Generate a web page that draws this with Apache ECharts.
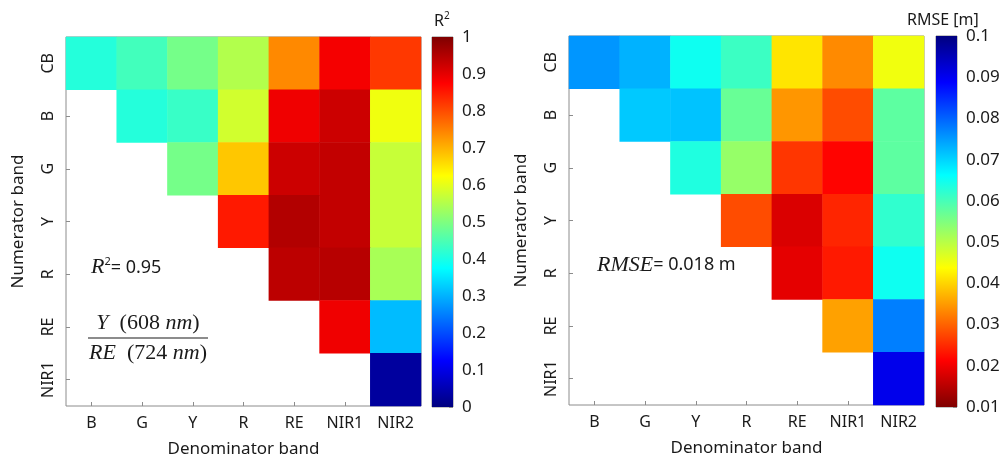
<!DOCTYPE html>
<html>
<head>
<meta charset="utf-8">
<script src="https://cdn.jsdelivr.net/npm/echarts@6/dist/echarts.min.js"></script>
<style>
  html, body { margin: 0; padding: 0; background: #fff; }
  #chart { width: 1008px; height: 455px; }
</style>
</head>
<body>
<div id="chart"></div>
<script>
// Band ratio performance: numerator band (rows) over denominator band (columns)
const numeratorBands = ['CB', 'B', 'G', 'Y', 'R', 'RE', 'NIR1'];
const denominatorBands = ['B', 'G', 'Y', 'R', 'RE', 'NIR1', 'NIR2'];

// Coefficient of determination per band pair (null = pair not evaluated)
const r2Values = [
  [0.41, 0.44, 0.49, 0.55, 0.74, 0.885, 0.82],
  [null, 0.41, 0.43, 0.58, 0.89, 0.925, 0.61],
  [null, null, 0.49, 0.68, 0.925, 0.935, 0.57],
  [null, null, null, 0.85, 0.95, 0.935, 0.57],
  [null, null, null, null, 0.94, 0.945, 0.54],
  [null, null, null, null, null, 0.89, 0.31],
  [null, null, null, null, null, null, 0.03]
];

// Root mean square error [m] per band pair
const rmseValues = [
  [0.0755, 0.073, 0.065, 0.061, 0.0415, 0.0335, 0.045],
  [null, 0.071, 0.0715, 0.057, 0.0345, 0.028, 0.058],
  [null, null, 0.0635, 0.053, 0.026, 0.0215, 0.058],
  [null, null, null, 0.028, 0.018, 0.0245, 0.062],
  [null, null, null, null, 0.019, 0.0235, 0.065],
  [null, null, null, null, null, 0.0355, 0.0775],
  [null, null, null, null, null, null, 0.0905]
];

// Colour scale ranges and tick spacing
const r2Range = [0, 1];
const r2Step = 0.1;
const rmseRange = [0.01, 0.1];
const rmseStep = 0.01;

// Jet colour map, low to high
const jet = ['#00007f', '#0000ff', '#007fff', '#00ffff', '#7fff7f', '#ffff00', '#ff7f00', '#ff0000', '#7f0000'];
const jetReversed = jet.slice().reverse();

function toCells(matrix) {
  const cells = [];
  matrix.forEach((row, r) => row.forEach((v, c) => {
    if (v !== null) cells.push([c, r, v]);
  }));
  return cells;
}

function gradientTopDown(colors) {
  const n = colors.length - 1;
  return new echarts.graphic.LinearGradient(0, 0, 0, 1,
    colors.map((c, i) => ({ offset: i / n, color: c })));
}

const FONT = 'Noto Sans';
const GREY = '#8c8c8c';
const TXT = '#1a1a1a';

function heatGrid(left, top) {
  return { left: left, top: top, width: 355, height: 369, show: true,
           containLabel: false, outerBoundsMode: 'none',
           borderColor: GREY, borderWidth: 1, backgroundColor: '#fff' };
}

function catXAxis(gridIndex, withLabels) {
  return {
    type: 'category', gridIndex: gridIndex, data: denominatorBands,
    position: withLabels ? 'bottom' : 'top',
    name: withLabels ? 'Denominator band' : '',
    nameLocation: 'middle', nameGap: 35,
    nameTextStyle: { fontFamily: FONT, fontSize: 17, color: TXT },
    axisLine: { show: false },
    axisTick: { show: true, inside: true, alignWithLabel: true, length: 4, lineStyle: { color: GREY } },
    axisLabel: { show: withLabels, fontFamily: FONT, fontSize: 16, color: TXT, margin: 9 },
    splitLine: { show: false }
  };
}

function catYAxis(gridIndex, withLabels) {
  return {
    type: 'category', gridIndex: gridIndex, data: numeratorBands, inverse: true,
    position: withLabels ? 'left' : 'right',
    name: withLabels ? 'Numerator band' : '',
    nameLocation: 'middle', nameGap: 39, nameRotate: 90,
    nameTextStyle: { fontFamily: FONT, fontSize: 17, color: TXT },
    axisLine: { show: false },
    axisTick: { show: true, inside: true, alignWithLabel: true, length: 4, lineStyle: { color: GREY } },
    axisLabel: { show: withLabels, rotate: 90, fontFamily: FONT, fontSize: 16, color: TXT, margin: 10 },
    splitLine: { show: false }
  };
}

function barXAxis(gridIndex) {
  return { type: 'category', gridIndex: gridIndex, data: ['scale'], show: false };
}

function barYAxis(gridIndex, range, step, digits) {
  return {
    type: 'value', gridIndex: gridIndex, position: 'right',
    min: range[0], max: range[1], interval: step,
    axisLine: { show: false },
    axisTick: { show: true, inside: true, length: 4, lineStyle: { color: GREY } },
    axisLabel: { fontFamily: FONT, fontSize: 17, color: TXT, margin: 9,
                 formatter: v => String(+v.toFixed(digits)) },
    splitLine: { show: false }
  };
}

function colorBarSeries(axisIndex, range, colors) {
  return {
    type: 'custom', xAxisIndex: axisIndex, yAxisIndex: axisIndex,
    data: [[0, range[0], range[1]]],
    silent: true, z: 1,
    renderItem: function (params, api) {
      const top = api.coord([api.value(0), api.value(2)]);
      const bottom = api.coord([api.value(0), api.value(1)]);
      const w = api.size([1, 0])[0];
      return {
        type: 'rect',
        shape: { x: top[0] - w / 2, y: top[1], width: w, height: bottom[1] - top[1] },
        style: { fill: gradientTopDown(colors) }
      };
    }
  };
}

const chart = echarts.init(document.getElementById('chart'), null, { renderer: 'canvas' });

const serifItalic = { fontFamily: 'Liberation Serif', fontStyle: 'italic', fontSize: 22, fill: TXT };
const serifUpright = { fontFamily: 'Liberation Serif', fontSize: 22, fill: TXT };

chart.setOption({
  animation: false,
  backgroundColor: '#fff',
  grid: [
    heatGrid(66, 37),
    heatGrid(569, 36),
    { left: 432, top: 37, width: 21, height: 370, show: true, containLabel: false, outerBoundsMode: 'none',
      borderColor: GREY, borderWidth: 1 },
    { left: 936, top: 36, width: 21, height: 371, show: true, containLabel: false, outerBoundsMode: 'none',
      borderColor: GREY, borderWidth: 1 }
  ],
  xAxis: [
    catXAxis(0, true), catXAxis(1, true),
    barXAxis(2), barXAxis(3),
    catXAxis(0, false), catXAxis(1, false)
  ],
  yAxis: [
    catYAxis(0, true), catYAxis(1, true),
    barYAxis(2, r2Range, r2Step, 1), barYAxis(3, rmseRange, rmseStep, 2),
    catYAxis(0, false), catYAxis(1, false)
  ],
  visualMap: [
    { type: 'continuous', show: false, seriesIndex: 0, dimension: 2,
      min: r2Range[0], max: r2Range[1], inRange: { color: jet } },
    { type: 'continuous', show: false, seriesIndex: 1, dimension: 2,
      min: rmseRange[0], max: rmseRange[1], inRange: { color: jetReversed } }
  ],
  series: [
    { type: 'heatmap', xAxisIndex: 0, yAxisIndex: 0, data: toCells(r2Values),
      itemStyle: { borderWidth: 0 }, emphasis: { disabled: true } },
    { type: 'heatmap', xAxisIndex: 1, yAxisIndex: 1, data: toCells(rmseValues),
      itemStyle: { borderWidth: 0 }, emphasis: { disabled: true } },
    colorBarSeries(2, r2Range, jetReversed),
    colorBarSeries(3, rmseRange, jet)
  ],
  graphic: [
    // colour bar titles
    { type: 'text', x: 434, y: 11, z: 10,
      style: { text: '{a|R}{s|2}', rich: {
        a: { fontFamily: FONT, fontSize: 16, fill: TXT },
        s: { fontFamily: FONT, fontSize: 10, fill: TXT, verticalAlign: 'top', padding: [0, 0, 10, 0] } } } },
    { type: 'text', x: 907, y: 12, z: 10,
      style: { text: 'RMSE [m]', fontFamily: FONT, fontSize: 16, fill: TXT } },
    // best band ratio statistics
    { type: 'text', x: 91, y: 256, z: 10,
      style: { text: '{i|R}{s|2}{n|= 0.95}', rich: {
        i: serifItalic,
        s: { fontFamily: FONT, fontSize: 11, fill: TXT, verticalAlign: 'top', padding: [0, 0, 12, 0] },
        n: { fontFamily: FONT, fontSize: 18, fill: TXT } } } },
    { type: 'text', x: 148, y: 323, z: 10,
      style: { text: '{i|Y}{u|\u00a0\u00a0(608\u00a0}{i|nm}{u|)}', align: 'center', verticalAlign: 'middle', rich: {
        i: serifItalic, u: serifUpright } } },
    { type: 'line', z: 10, shape: { x1: 88, y1: 338, x2: 208, y2: 338 },
      style: { stroke: TXT, lineWidth: 1.2 } },
    { type: 'text', x: 148, y: 353, z: 10,
      style: { text: '{i|RE}{u|\u00a0\u00a0(724\u00a0}{i|nm}{u|)}', align: 'center', verticalAlign: 'middle', rich: {
        i: serifItalic, u: serifUpright } } },
    { type: 'text', x: 597, y: 254, z: 10,
      style: { text: '{i|RMSE}{n|= 0.018 m}', rich: {
        i: serifItalic,
        n: { fontFamily: FONT, fontSize: 18, fill: TXT } } } }
  ]
});
</script>
</body>
</html>
